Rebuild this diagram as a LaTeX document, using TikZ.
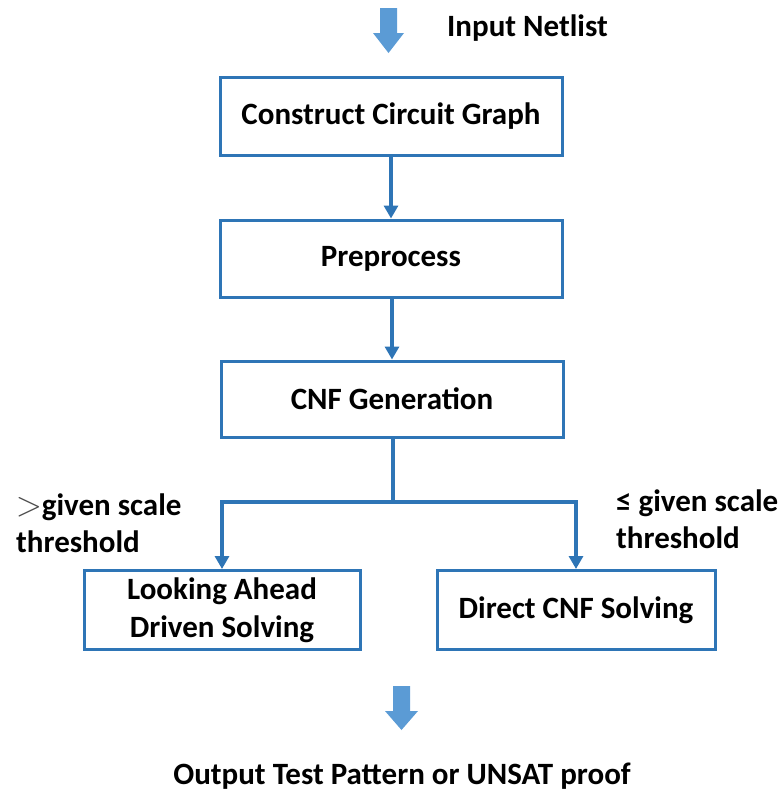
\documentclass[tikz,border=0pt]{standalone}
\usepackage{fontspec}
\setmainfont{Carlito}
\usetikzlibrary{arrows.meta}
\definecolor{lineblue}{HTML}{2E75B6}
\definecolor{fillblue}{HTML}{5B9BD5}
\begin{document}
\begin{tikzpicture}[x=1pt,y=-1pt,
  every node/.style={font=\fontsize{31}{38}\selectfont\bfseries, inner sep=0pt},
  stepbox/.style={draw=lineblue, line width=3pt, fill=white, align=center},
  flow/.style={draw=lineblue, line width=3.2pt, -{Triangle[width=14pt,length=13pt]}},
  blockarrow/.style={fill=fillblue, draw=none},
  lbl/.style={align=left, anchor=base west, font=\fontsize{31}{37}\selectfont\bfseries}]
\useasboundingbox (0,0) rectangle (782,793);

% processing steps
\node[stepbox, minimum width=342pt, minimum height=78pt] (graph) at (391,116) {Construct Circuit Graph};
\node[stepbox, minimum width=342pt, minimum height=77pt] (pre) at (391,258.5) {Preprocess};
\node[stepbox, minimum width=342pt, minimum height=76pt] (cnf) at (392,399) {CNF Generation};
\node[stepbox, minimum width=276pt, minimum height=79pt] (look) at (222,610) {Looking Ahead\\Driven Solving};
\node[stepbox, minimum width=278pt, minimum height=79pt] (direct) at (576,610) {Direct CNF Solving};

% input / output
\node[anchor=west] (in) at (447,28) {Input Netlist};
\node (out) at (402,776) {Output Test Pattern or UNSAT proof};

% block arrows for input and output
\fill[blockarrow] (380,8) -- (397,8) -- (397,33) -- (404,33) -- (388.5,53) -- (373,33) -- (380,33) -- cycle;
\fill[blockarrow] (393,686) -- (410,686) -- (410,711) -- (418,711) -- (401.5,730) -- (385,711) -- (393,711) -- cycle;

% connectors
\draw[flow] (graph.south -| 391,0) -- (pre.north -| 391,0);
\draw[flow] (pre.south -| 392,0) -- (cnf.north -| 392,0);
\coordinate (split) at (393,502);
\draw[lineblue, line width=3.2pt] (cnf.south -| split) -- (split);
\draw[flow] (split) -| (look.north);
\draw[flow] (split) -| (direct.north);

% branch conditions (anchored at the baseline of the second line)
\node[lbl] (gt) at (16,552) {\textcolor{black!70}{\fontspec{Latin Modern Math}\mdseries\fontsize{33}{37}\selectfont >}given scale\\threshold};
\node[lbl] (le) at (616,548) {≤ given scale\\threshold};
\end{tikzpicture}
\end{document}
